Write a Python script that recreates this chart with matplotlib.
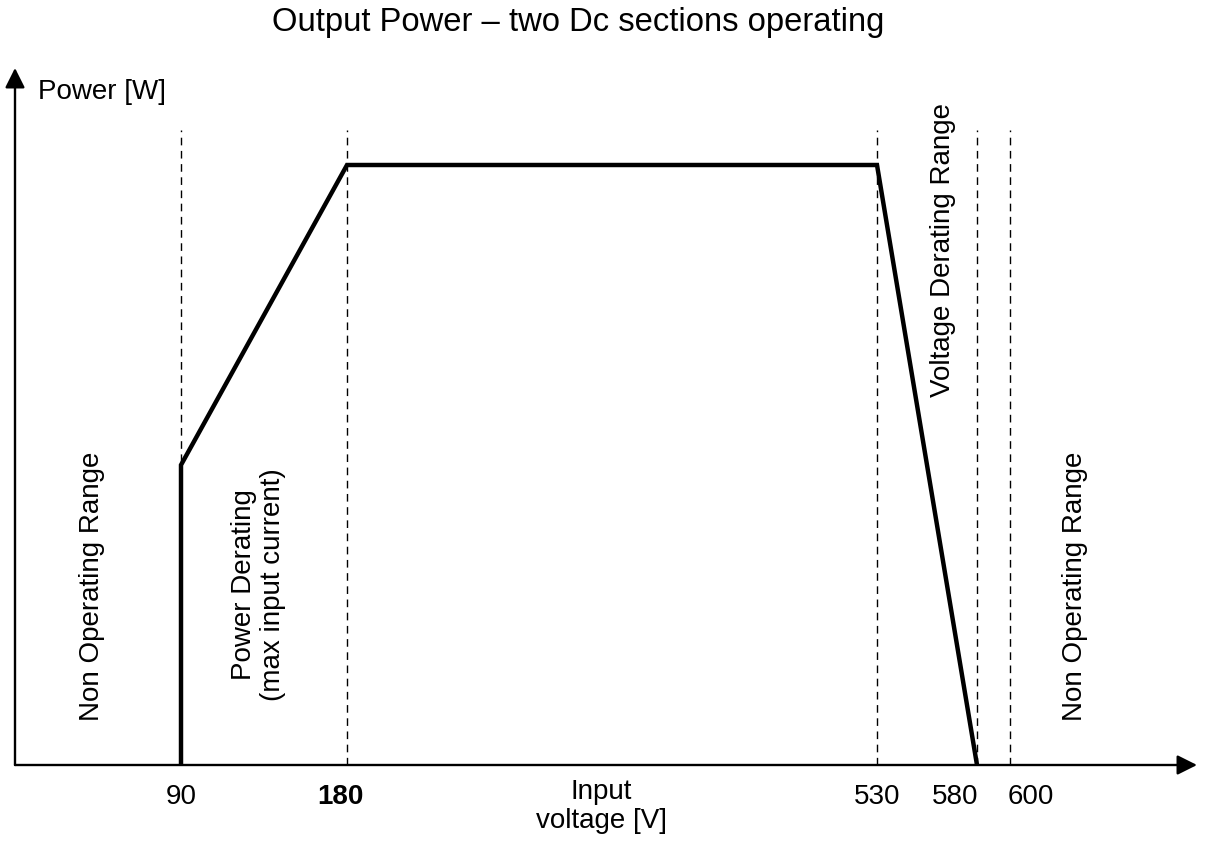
import numpy as np
import matplotlib.pyplot as plt

plt.rcParams['font.family'] = ['Liberation Sans', 'DejaVu Sans']

# Chart data (schematic: input voltage vs. output power, power as a fraction of max)
tick_voltages = [90, 180, 530, 580, 600]
tick_labels = ['90', '180', '530', '580', '600']
curve_voltage = [90, 90, 180, 530, 580]
curve_power = [0, 0.5, 1.0, 1.0, 0]
boundary_voltages = [90, 180, 530, 580, 600]

# the x axis of the original is not linear, so map voltages to positions piecewise
volt_knots = [0, 90, 180, 530, 580, 600, 700]
pos_knots = [15, 181, 347, 877, 977, 1010, 1197]


def forward(v):
    return np.interp(v, volt_knots, pos_knots)


def inverse(p):
    return np.interp(p, pos_knots, volt_knots)


W, H = 1208, 844
fig = plt.figure(figsize=(W / 100, H / 100), dpi=100)
ax = fig.add_axes([15 / W, (H - 765) / H, (1197 - 15) / W, (765 - 68) / H])
ax.set_xscale('function', functions=(forward, inverse))
ax.set_xlim(0, 700)
ax.set_ylim(0, (765 - 68) / 600)
for s in ax.spines.values():
    s.set_visible(False)
ax.set_xticks([])
ax.set_yticks([])

# axes with arrow heads
arrow = dict(arrowstyle='-|>', lw=1.7, color='black', mutation_scale=30, shrinkA=0, shrinkB=0)
ax.annotate('', xy=(1, 0), xytext=(0, 0), xycoords='axes fraction', arrowprops=arrow, annotation_clip=False)
ax.annotate('', xy=(0, 1), xytext=(0, 0), xycoords='axes fraction', arrowprops=arrow, annotation_clip=False)

# dashed boundaries
for v in boundary_voltages:
    ax.plot([v, v], [0, 1.058], color='black', lw=1, linestyle=(0, (5.5, 4)))

# power curve
ax.plot(curve_voltage, curve_power, color='black', lw=3.2, solid_joinstyle='miter', solid_capstyle='butt')

# tick labels (some nudged sideways as in the original)
nudges = [0, -5, 0, -16, 15]
for v, lab, dx in zip(tick_voltages, tick_labels, nudges):
    ax.annotate(lab, xy=(v, 0), xycoords=('data', 'axes fraction'), xytext=(dx, -23),
                textcoords='offset points', ha='center', va='center', fontsize=20,
                fontweight='bold' if lab == '180' else 'normal')

ax.annotate('Input\nvoltage [V]', xy=(348, 0), xycoords=('data', 'axes fraction'), xytext=(0, -30),
            textcoords='offset points', ha='center', va='center', fontsize=20, linespacing=1.15)

# region labels
ax.text(42, 0.298, 'Non Operating Range', rotation=90, ha='center', va='center', fontsize=20)
ax.text(132, 0.30, 'Power Derating\n(max input current)', rotation=90, ha='center', va='center',
        fontsize=20, linespacing=1.15, multialignment='center')
ax.text(563, 0.858, 'Voltage Derating Range', rotation=90, ha='center', va='center', fontsize=20)
ax.text(635, 0.298, 'Non Operating Range', rotation=90, ha='center', va='center', fontsize=20)

fig.text(38 / W, 1 - 92 / H, 'Power [W]', ha='left', va='center', fontsize=20)
fig.text(578 / W, 1 - 22 / H, 'Output Power \u2013 two Dc sections operating', ha='center', va='center', fontsize=23.6)

fig.savefig('out.png', dpi=100)
